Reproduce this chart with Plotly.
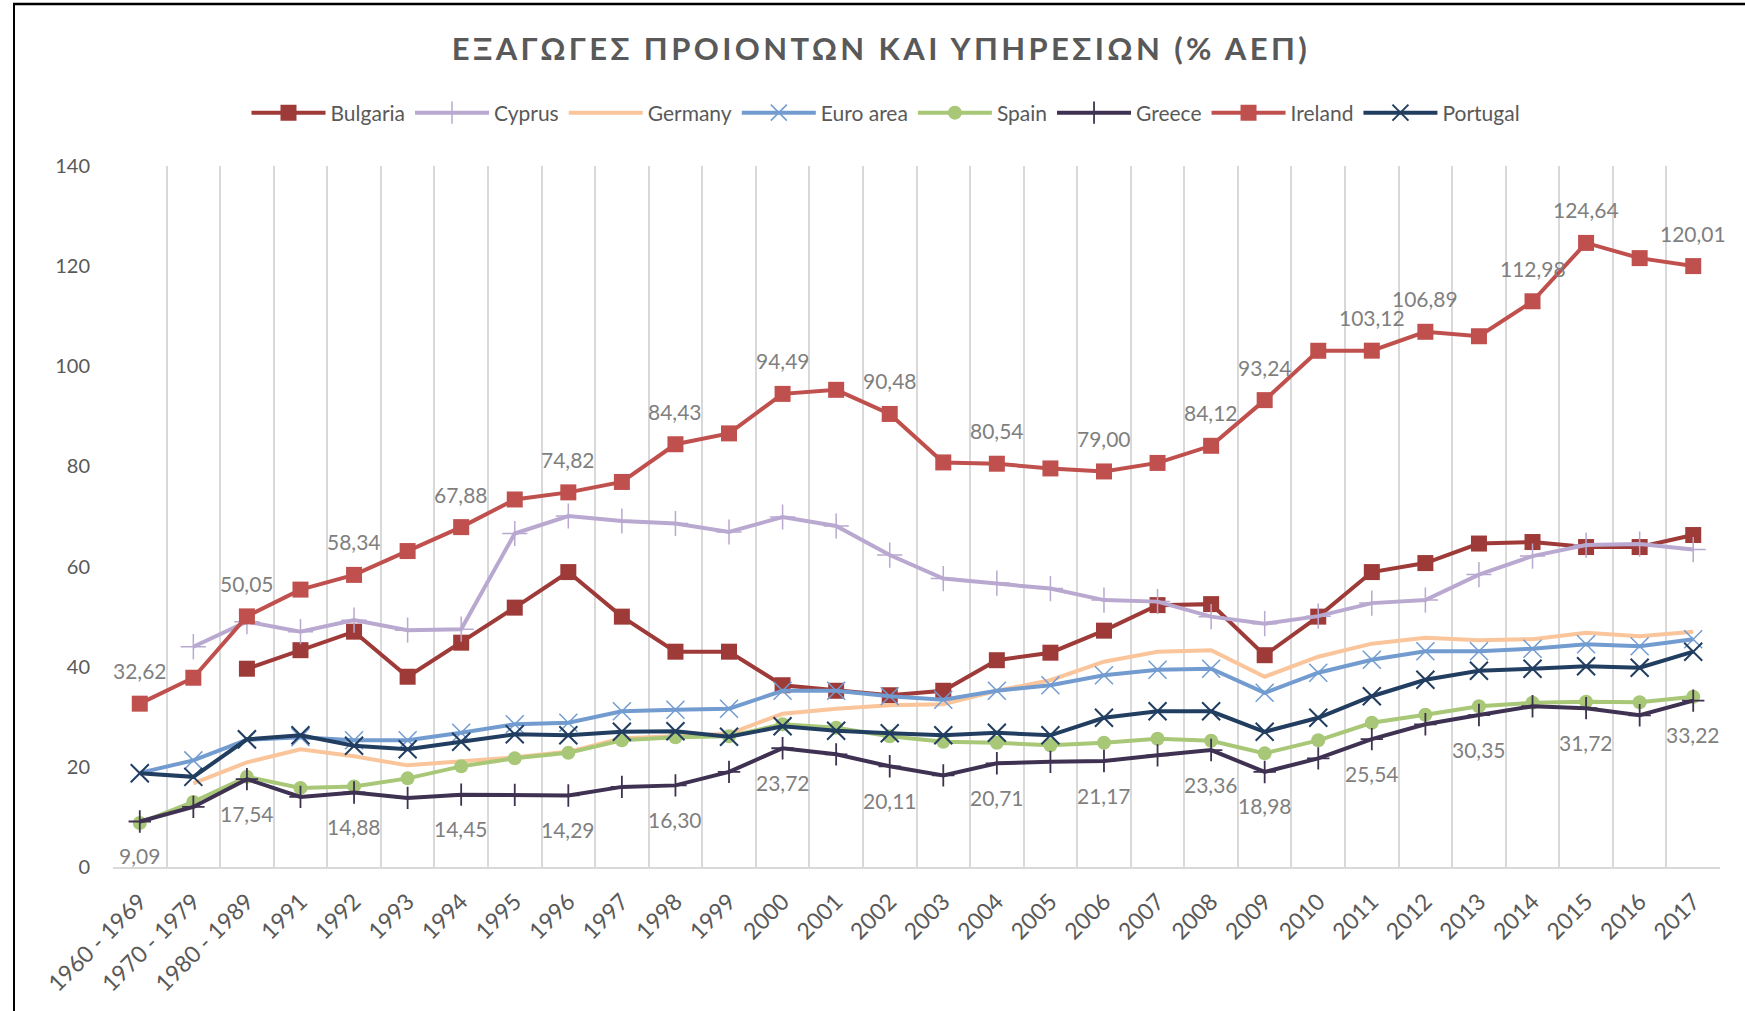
import plotly.graph_objects as go

categories = ["1960 - 1969", "1970 - 1979", "1980 - 1989"] + [str(y) for y in range(1991, 2018)]

bulgaria = [None, None, 39.6, 43.3, 47.0, 38.0, 44.8, 51.8, 58.9, 50.0, 43.0, 43.0, 36.3, 35.2, 34.3,
            35.2, 41.3, 42.8, 47.2, 52.3, 52.5, 42.3, 50.0, 58.9, 60.7, 64.6, 64.9, 63.9, 63.9, 66.3]
cyprus = [None, 44.0, 49.0, 47.0, 49.3, 47.3, 47.5, 66.6, 70.1, 69.1, 68.6, 66.9, 69.9, 68.1, 62.3,
          57.6, 56.7, 55.6, 53.3, 53.0, 50.0, 48.6, 50.1, 52.7, 53.3, 58.4, 62.1, 64.3, 64.5, 63.4]
germany = [None, 16.7, 20.9, 23.5, 22.1, 20.3, 21.0, 21.9, 23.0, 25.7, 26.1, 26.6, 30.6, 31.6, 32.3,
           32.5, 35.2, 37.3, 41.0, 43.0, 43.3, 38.0, 42.0, 44.6, 45.8, 45.3, 45.5, 46.8, 46.1, 47.0]
euro_area = [18.8, 21.3, 25.4, 25.9, 25.3, 25.3, 26.8, 28.5, 28.8, 31.1, 31.4, 31.6, 35.2, 35.2, 34.1,
             33.4, 35.2, 36.3, 38.3, 39.4, 39.6, 34.8, 38.8, 41.4, 43.1, 43.1, 43.6, 44.5, 44.1, 45.5]
spain = [8.8, 13.0, 18.0, 15.8, 16.1, 17.7, 20.1, 21.7, 22.8, 25.3, 25.9, 26.1, 28.5, 27.8, 26.1,
         25.0, 24.8, 24.3, 24.8, 25.6, 25.2, 22.7, 25.3, 28.8, 30.4, 32.1, 32.8, 33.0, 32.9, 34.0]
greece = [9.09, 12.0, 17.54, 14.0, 14.88, 13.8, 14.45, 14.4, 14.29, 16.0, 16.30, 19.0, 23.72, 22.5, 20.11,
          18.3, 20.71, 21.0, 21.17, 22.3, 23.36, 18.98, 21.7, 25.54, 28.5, 30.35, 32.1, 31.72, 30.3, 33.22]
ireland = [32.62, 37.8, 50.05, 55.4, 58.34, 63.1, 67.88, 73.4, 74.82, 76.9, 84.43, 86.6, 94.49, 95.3, 90.48,
           80.8, 80.54, 79.6, 79.00, 80.7, 84.12, 93.24, 103.1, 103.12, 106.89, 106.0, 112.98, 124.64, 121.6, 120.01]
portugal = [18.7, 18.0, 25.5, 26.3, 24.2, 23.5, 25.0, 26.5, 26.3, 27.0, 27.1, 26.0, 28.1, 27.2, 26.7,
            26.3, 26.8, 26.3, 29.8, 31.1, 31.1, 27.0, 29.8, 34.1, 37.4, 39.2, 39.6, 40.1, 39.8, 43.0]

# indices of points that carry a data label
ireland_labelled = [0, 2, 4, 6, 8, 10, 12, 14, 16, 18, 20, 21, 23, 24, 26, 27, 29]
greece_labelled = [0, 2, 4, 6, 8, 10, 12, 14, 16, 18, 20, 21, 23, 25, 27, 29]

title_text = "ΕΞΑΓΩΓΕΣ ΠΡΟΙΟΝΤΩΝ ΚΑΙ ΥΠΗΡΕΣΙΩΝ (% ΑΕΠ)"

W, H = 1745, 1011
ML, MR, MT, MB = 113, 25, 166, 144
FONT = "Lato, 'Open Sans', sans-serif"

series = [
    ("Bulgaria", bulgaria, "#9E3A38", dict(symbol="square", size=16, color="#9E3A38")),
    ("Cyprus", cyprus, "#B9A8CF", dict(symbol="cross-thin", size=18, line=dict(color="#B9A8CF", width=1.5))),
    ("Germany", germany, "#FAC59A", None),
    ("Euro area", euro_area, "#729CD0", dict(symbol="x-thin", size=18, line=dict(color="#729CD0", width=1.5))),
    ("Spain", spain, "#A8C777", dict(symbol="circle", size=14, color="#A8C777")),
    ("Greece", greece, "#3F3151", dict(symbol="cross-thin", size=16, line=dict(color="#3F3151", width=1.8))),
    ("Ireland", ireland, "#C0504D", dict(symbol="square", size=16, color="#C0504D")),
    ("Portugal", portugal, "#213D60", dict(symbol="x-thin", size=18, line=dict(color="#213D60", width=2))),
]

fig = go.Figure()
for name, vals, col, mk in series:
    fig.add_trace(go.Scatter(
        x=categories, y=vals, name=name,
        mode="lines+markers" if mk else "lines",
        line=dict(color=col, width=4),
        marker=mk if mk else None,
        connectgaps=False,
    ))

def fmt(v):
    return f"{v:.2f}".replace(".", ",")

LABEL_FONT = dict(family=FONT, size=21, color="#7F7F7F")
annotations = []
for i in ireland_labelled:
    annotations.append(dict(x=i, y=ireland[i], xref="x", yref="y", text=fmt(ireland[i]),
                            showarrow=False, yshift=33, font=LABEL_FONT))
for i in greece_labelled:
    annotations.append(dict(x=i, y=greece[i], xref="x", yref="y", text=fmt(greece[i]),
                            showarrow=False, yshift=-34, font=LABEL_FONT))

pw = W - ML - MR
ph = H - MT - MB
def px_x(p):
    return (p - ML) / pw
def px_y(p):
    return (H - MB - p) / ph

shapes = [
    dict(type="line", xref="paper", yref="paper", x0=px_x(14), x1=px_x(14), y0=px_y(4), y1=px_y(H + 5),
         line=dict(color="#000000", width=2)),
    dict(type="line", xref="paper", yref="paper", x0=px_x(13), x1=px_x(W + 5), y0=px_y(4), y1=px_y(4),
         line=dict(color="#000000", width=2.5)),
]

fig.update_layout(
    width=W, height=H,
    margin=dict(l=ML, r=MR, t=MT, b=MB, pad=0),
    paper_bgcolor="white", plot_bgcolor="white",
    font=dict(family=FONT, color="#595959"),
    title=dict(
        text='<b><span style="letter-spacing:3.4px">' + title_text + '</span></b>',
        x=881 / W, xref="container", xanchor="center",
        y=1 - 49 / H, yref="container", yanchor="middle",
        font=dict(family=FONT, size=31, color="#595959"),
    ),
    legend=dict(
        orientation="h", xref="container", yref="container",
        x=886 / W, xanchor="center", y=1 - 113 / H, yanchor="middle",
        font=dict(family=FONT, size=21, color="#595959"),
        itemwidth=74, tracegroupgap=0,
    ),
    showlegend=True,
    annotations=annotations,
    shapes=shapes,
)

fig.update_xaxes(
    type="category", categoryorder="array", categoryarray=categories,
    range=[-0.5, len(categories) - 0.5],
    tickson="boundaries", showgrid=True, gridcolor="#D9D9D9", gridwidth=1.5,
    showline=True, linecolor="#D9D9D9", linewidth=2,
    ticks="", tickangle=-45, ticklabelstandoff=10,
    tickfont=dict(family=FONT, size=23, color="#595959"),
    zeroline=False,
)
fig.update_yaxes(
    range=[0, 140], tickvals=[0, 20, 40, 60, 80, 100, 120, 140],
    showgrid=False, zeroline=False, showline=False, ticks="",
    ticklabelstandoff=22,
    tickfont=dict(family=FONT, size=20, color="#595959"),
)

fig.write_html("out.html", config={"displayModeBar": False},
               post_script="document.body.style.margin='0';")
